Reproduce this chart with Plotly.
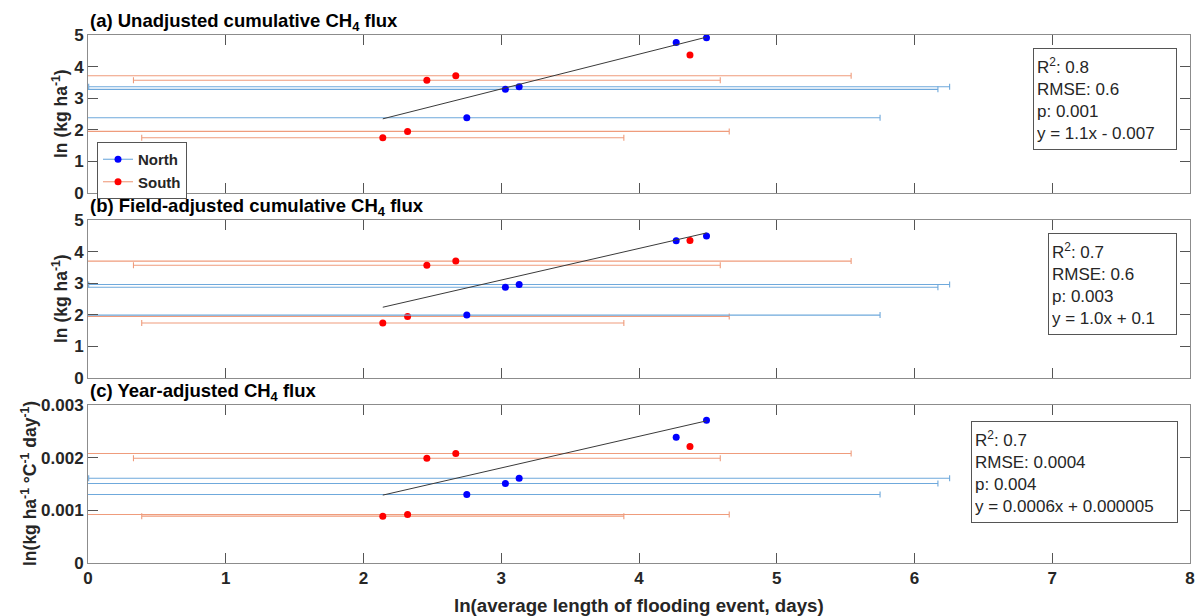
import plotly.graph_objects as go

# ln(average length of flooding event, days) per site
north_x = [2.75, 3.03, 3.13, 4.27, 4.49]
south_x = [2.14, 2.32, 2.46, 2.67, 4.37]
# symmetric spread in ln(days); 0 where no spread was recorded
north_xerr = [3.00, 3.14, 3.125, 0, 0]
south_xerr = [1.75, 2.335, 2.13, 2.87, 0]

# (a) unadjusted cumulative CH4 flux, ln(kg ha-1)
north_a = [2.38, 3.28, 3.36, 4.76, 4.91]
south_a = [1.75, 1.95, 3.57, 3.71, 4.37]
# (b) field-adjusted cumulative CH4 flux, ln(kg ha-1)
north_b = [1.99, 2.87, 2.96, 4.34, 4.49]
south_b = [1.74, 1.95, 3.57, 3.70, 4.35]
# (c) year-adjusted CH4 flux, ln(kg ha-1 C-1 day-1)
north_c = [0.00130, 0.00151, 0.00161, 0.00239, 0.00271]
south_c = [0.00089, 0.00092, 0.00199, 0.00208, 0.00221]

# linear regression results per panel
fit_slope = [1.1, 1.0, 0.0006]
fit_intercept = [-0.007, 0.1, 0.000005]
fit_r2 = ["0.8", "0.7", "0.7"]
fit_rmse = ["0.6", "0.6", "0.0004"]
fit_p = ["0.001", "0.003", "0.004"]
fit_eq = ["y = 1.1x - 0.007", "y = 1.0x + 0.1", "y = 0.0006x + 0.000005"]

panel_titles = [
    "(a) Unadjusted cumulative CH<sub>4</sub> flux",
    "(b) Field-adjusted cumulative CH<sub>4</sub> flux",
    "(c) Year-adjusted CH<sub>4</sub> flux",
]
y_titles = [
    "ln (kg ha<sup>-1</sup>)",
    "ln (kg ha<sup>-1</sup>)",
    "ln(kg ha<sup>-1</sup> °C<sup>-1</sup> day<sup>-1</sup>)",
]
y_ranges = [[0, 5], [0, 5], [0, 0.003]]
y_dticks = [1, 1, 0.001]
x_ticks = [0, 1, 2, 3, 4, 5, 6, 7, 8]

NORTH = "#0000ff"
SOUTH = "#ff0000"
NORTH_ERR = "#6fa9dc"
SOUTH_ERR = "#ef9c7c"
FONT = "Liberation Sans, Arial, sans-serif"

# layout geometry (pixels)
W, H = 1200, 616
ML, MR, MT, MB = 88, 10, 35, 53
plot_h = H - MT - MB
plot_w = W - ML - MR
panel_px = [(35, 193), (220, 378), (405, 563)]  # (top, bottom)


def py(pix):
    return (H - MB - pix) / plot_h


def px(pix):
    return (pix - ML) / plot_w


domains = [[py(b), py(t)] for t, b in panel_px]

fig = go.Figure()

series = [(north_a, south_a), (north_b, south_b), (north_c, south_c)]
for i, (ny, sy) in enumerate(series):
    xa = "x" if i == 0 else f"x{i + 1}"
    ya = "y" if i == 0 else f"y{i + 1}"
    fig.add_trace(go.Scatter(
        x=south_x, y=sy, mode="markers", xaxis=xa, yaxis=ya, showlegend=False,
        marker=dict(color=SOUTH, size=7),
        error_x=dict(type="data", array=south_xerr, symmetric=True,
                     color=SOUTH_ERR, thickness=1.1, width=3),
    ))
    fig.add_trace(go.Scatter(
        x=north_x, y=ny, mode="markers", xaxis=xa, yaxis=ya, showlegend=False,
        marker=dict(color=NORTH, size=7),
        error_x=dict(type="data", array=north_xerr, symmetric=True,
                     color=NORTH_ERR, thickness=1.1, width=3),
    ))
    all_x = north_x + south_x
    x0, x1 = min(all_x), max(all_x)
    fig.add_trace(go.Scatter(
        x=[x0, x1],
        y=[fit_slope[i] * x0 + fit_intercept[i], fit_slope[i] * x1 + fit_intercept[i]],
        mode="lines", xaxis=xa, yaxis=ya, showlegend=False,
        line=dict(color="#3a3a3a", width=1),
    ))

# legend entries
fig.add_trace(go.Scatter(x=[None], y=[None], name="North", mode="lines+markers",
                         marker=dict(color=NORTH, size=7),
                         line=dict(color=NORTH_ERR, width=1.1)))
fig.add_trace(go.Scatter(x=[None], y=[None], name="South", mode="lines+markers",
                         marker=dict(color=SOUTH, size=7),
                         line=dict(color=SOUTH_ERR, width=1.1)))

axis_common = dict(
    showline=True, linecolor="#8c8c8c", linewidth=1, mirror="allticks",
    ticks="inside", ticklen=10, tickcolor="#555555", tickwidth=1,
    showgrid=False, zeroline=False,
    tickfont=dict(family=FONT, size=17, color="#262626", weight="bold"),
)

layout_axes = {}
for i in range(3):
    xk = "xaxis" if i == 0 else f"xaxis{i + 1}"
    yk = "yaxis" if i == 0 else f"yaxis{i + 1}"
    layout_axes[xk] = dict(
        axis_common, range=[0, 8], tickvals=x_ticks, domain=[0, 1],
        anchor="y" if i == 0 else f"y{i + 1}",
        showticklabels=(i == 2),
    )
    layout_axes[yk] = dict(
        axis_common, range=y_ranges[i], dtick=y_dticks[i], domain=domains[i],
        anchor="x" if i == 0 else f"x{i + 1}",
    )
    if i == 2:
        layout_axes[yk]["tickformat"] = ".3~f"

annotations = []
box_geom = [  # (left, right, top, bottom) in pixels
    (1033, 1177, 48, 150),
    (1048, 1177, 233, 335),
    (971, 1178, 421, 523),
]
for i in range(3):
    l, r, t, b = box_geom[i]
    annotations.append(dict(
        xref="paper", yref="paper", x=px(r), y=py(t),
        xanchor="right", yanchor="top",
        width=r - l - 8, height=b - t - 8, borderpad=3,
        align="left", valign="middle", showarrow=False,
        bordercolor="#555555", borderwidth=1, bgcolor="white",
        font=dict(family=FONT, size=17, color="#262626"),
        text=(f"R<sup>2</sup>: {fit_r2[i]}<br>RMSE: {fit_rmse[i]}"
              f"<br>p: {fit_p[i]}<br>{fit_eq[i]}"),
    ))
    annotations.append(dict(
        xref="paper", yref="paper", x=0, y=domains[i][1],
        xanchor="left", yanchor="bottom", showarrow=False, yshift=-1,
        font=dict(family=FONT, size=18.5, color="#000000", weight="bold"),
        text=panel_titles[i],
    ))
    annotations.append(dict(
        xref="paper", yref="paper",
        x=px(60 if i < 2 else 29), y=(domains[i][0] + domains[i][1]) / 2,
        xanchor="center", yanchor="middle", textangle=-90, showarrow=False,
        font=dict(family=FONT, size=17.5, color="#262626", weight="bold"),
        text=y_titles[i],
    ))

annotations.append(dict(
    xref="paper", yref="paper", x=0.5, y=py(605),
    xanchor="center", yanchor="middle", showarrow=False,
    font=dict(family=FONT, size=18.7, color="#262626", weight="bold"),
    text="ln(average length of flooding event, days)",
))

fig.update_layout(
    width=W, height=H,
    margin=dict(l=ML, r=MR, t=MT, b=MB, autoexpand=False),
    paper_bgcolor="white", plot_bgcolor="white",
    font=dict(family=FONT, color="#262626"),
    annotations=annotations,
    legend=dict(
        x=px(97), y=py(142), xanchor="left", yanchor="top",
        bordercolor="#555555", borderwidth=1, bgcolor="white",
        font=dict(family=FONT, size=15, color="#262626", weight="bold"),
        itemwidth=30, tracegroupgap=0,
    ),
    **layout_axes,
)

fig.write_html("out.html")
